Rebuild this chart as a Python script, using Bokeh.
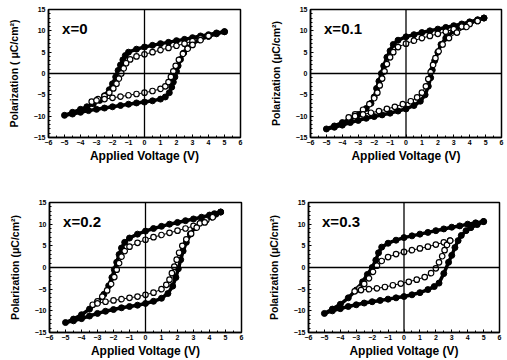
from bokeh.plotting import figure
from bokeh.models import Span, Label, SingleIntervalTicker, Range1d
from bokeh.layouts import column, row
from bokeh.embed import file_html
from bokeh.resources import INLINE

# ---------------- data ----------------
tags = ["x=0", "x=0.1", "x=0.2", "x=0.3"]
ylabels = ["Polarization ( \u03bcC/cm\u00b2)", "Polarization (\u03bcC/cm\u00b2)",
           "Polarization (\u03bcC/cm\u00b2)", "Polarization (\u03bcC/cm\u00b2)"]
xlabel = "Applied Voltage (V)"

# x = 0 : outer loop (filled) and inner loop (open)
V0_out = [5.0, 4.5, 4.0, 3.5, 3.0, 2.5, 2.0, 1.5, 1.0, 0.5, 0.0, -0.5, -1.0, -1.2, -1.35, -1.5, -1.65,
          -1.8, -2.0, -2.2, -2.5, -2.8, -3.2, -3.6, -4.0, -4.5, -5.0,
          -4.5, -4.0, -3.5, -3.0, -2.5, -2.0, -1.5, -1.0, -0.5, 0.0, 0.5, 1.0, 1.3, 1.55, 1.7, 1.8,
          1.9, 2.0, 2.1, 2.25, 2.45, 2.7, 3.0, 3.5, 4.0, 4.5, 5.0]
P0_out = [9.8, 9.5, 9.1, 8.8, 8.4, 8.0, 7.7, 7.3, 7.0, 6.6, 6.2, 5.7, 5.0, 4.2, 3.2, 2.0, 0.7,
          -0.8, -2.4, -3.8, -5.2, -6.3, -7.1, -7.8, -8.4, -9.1, -9.8,
          -9.5, -9.1, -8.7, -8.4, -8.1, -7.8, -7.5, -7.2, -6.9, -6.7, -6.4, -6.0, -5.5, -4.5, -3.2, -2.0,
          -0.8, 0.5, 1.8, 3.3, 4.8, 6.0, 7.0, 8.0, 8.7, 9.3, 9.8]
V0_in = [4.0, 3.5, 3.0, 2.5, 2.0, 1.5, 1.0, 0.5, 0.0, -0.5, -0.9, -1.15, -1.3, -1.45, -1.6, -1.75,
         -1.95, -2.2, -2.5, -2.9, -3.3,
         -3.0, -2.5, -2.0, -1.5, -1.0, -0.5, 0.0, 0.5, 1.0, 1.3, 1.5, 1.65, 1.8, 1.95, 2.15, 2.4,
         2.7, 3.0, 3.5, 4.0]
P0_in = [8.8, 8.2, 7.6, 7.0, 6.5, 6.0, 5.5, 5.0, 4.5, 4.0, 3.3, 2.4, 1.2, 0.0, -1.2, -2.4,
         -3.5, -4.5, -5.3, -6.0, -6.6,
         -6.3, -6.0, -5.7, -5.4, -5.1, -4.8, -4.5, -4.1, -3.6, -3.0, -2.0, -0.8, 0.5, 1.8, 3.2, 4.6,
         5.8, 6.7, 7.8, 8.8]

# x = 0.1
V1_out = [4.9, 4.5, 4.0, 3.5, 3.0, 2.5, 2.0, 1.5, 1.0, 0.5, 0.0, -0.5, -0.8, -1.0, -1.2, -1.4, -1.55,
          -1.7, -1.85, -2.0, -2.2, -2.5, -3.0, -3.5, -4.0, -4.5, -5.0,
          -4.5, -4.0, -3.5, -3.0, -2.5, -2.0, -1.5, -1.0, -0.5, 0.0, 0.5, 0.9, 1.2, 1.4, 1.55, 1.65,
          1.8, 2.0, 2.2, 2.5, 3.0, 3.5, 4.0, 4.5, 4.9]
P1_out = [13.0, 12.6, 12.1, 11.6, 11.2, 10.8, 10.4, 10.0, 9.6, 9.1, 8.6, 7.8, 6.8, 5.3, 3.8, 1.8, 0.0,
          -1.8, -3.5, -5.5, -7.0, -8.2, -9.6, -10.6, -11.5, -12.3, -13.0,
          -12.6, -12.1, -11.5, -11.0, -10.5, -10.1, -9.7, -9.3, -8.8, -8.3, -7.5, -6.5, -5.0, -3.0, -1.0, 0.8,
          3.0, 5.0, 6.8, 8.3, 10.0, 11.0, 11.9, 12.5, 13.0]
V1_in = [4.5, 4.0, 3.5, 3.0, 2.5, 2.0, 1.5, 1.0, 0.5, 0.0, -0.5, -0.8, -1.0, -1.2, -1.35, -1.5, -1.65,
         -1.8, -2.0, -2.3, -2.7, -3.2, -3.6,
         -3.2, -2.7, -2.2, -1.7, -1.2, -0.7, -0.2, 0.3, 0.7, 1.0, 1.25, 1.4, 1.55, 1.7, 1.85, 2.05,
         2.3, 2.7, 3.2, 3.8, 4.5]
P1_in = [12.3, 11.6, 11.0, 10.4, 9.8, 9.3, 8.8, 8.3, 7.7, 7.0, 6.2, 5.0, 3.8, 2.2, 0.5, -1.2, -2.8,
         -4.5, -5.8, -7.2, -8.5, -9.6, -10.3,
         -10.0, -9.6, -9.2, -8.8, -8.3, -7.8, -7.2, -6.5, -5.6, -4.5, -3.0, -1.3, 0.3, 2.0, 3.6, 5.2,
         6.8, 8.3, 9.6, 10.9, 12.3]

# x = 0.2
V2_out = [4.7, 4.3, 4.0, 3.5, 3.0, 2.5, 2.0, 1.5, 1.0, 0.5, 0.0, -0.5, -1.0, -1.3, -1.5, -1.65, -1.8,
          -1.95, -2.1, -2.3, -2.6, -3.0, -3.5, -4.0, -4.5, -5.0,
          -4.5, -4.0, -3.5, -3.0, -2.5, -2.0, -1.5, -1.0, -0.5, 0.0, 0.5, 1.0, 1.4, 1.7, 1.9, 2.05,
          2.2, 2.35, 2.55, 2.8, 3.1, 3.5, 4.0, 4.4, 4.7]
P2_out = [12.8, 12.4, 12.1, 11.6, 11.2, 10.8, 10.4, 10.0, 9.5, 9.0, 8.4, 7.7, 6.8, 5.8, 4.5, 3.0, 1.2,
          -0.5, -2.3, -4.2, -6.2, -8.0, -9.6, -10.9, -11.9, -12.7,
          -12.3, -11.8, -11.2, -10.6, -10.1, -9.7, -9.3, -9.0, -8.7, -8.3, -7.8, -7.1, -6.0, -4.3, -2.3, -0.3,
          1.8, 3.8, 5.8, 7.7, 9.3, 10.6, 11.7, 12.3, 12.8]
V2_in = [4.2, 3.8, 3.4, 3.0, 2.5, 2.0, 1.5, 1.0, 0.5, 0.0, -0.5, -1.0, -1.3, -1.5, -1.65, -1.8, -1.95,
         -2.15, -2.4, -2.7, -3.0, -3.3,
         -3.0, -2.5, -2.0, -1.5, -1.0, -0.5, 0.0, 0.5, 1.0, 1.3, 1.5, 1.65, 1.8, 1.95, 2.1, 2.3,
         2.55, 2.85, 3.2, 3.7, 4.2]
P2_in = [11.6, 10.9, 10.2, 9.6, 9.0, 8.5, 8.0, 7.5, 7.0, 6.4, 5.7, 4.8, 3.8, 2.5, 1.0, -0.5, -2.2,
         -3.8, -5.3, -6.7, -7.8, -8.6,
         -8.3, -7.9, -7.6, -7.3, -7.0, -6.7, -6.3, -5.8, -5.0, -4.0, -2.8, -1.3, 0.2, 1.8, 3.4, 5.0,
         6.5, 7.8, 9.2, 10.4, 11.6]

# x = 0.3
V3_out = [5.0, 4.5, 4.0, 3.5, 3.0, 2.5, 2.0, 1.5, 1.0, 0.5, 0.0, -0.5, -1.0, -1.4, -1.6, -1.77, -2.0,
          -2.3, -2.6, -3.0, -3.5, -4.0, -4.5, -5.0,
          -4.5, -4.0, -3.5, -3.0, -2.5, -2.0, -1.5, -1.0, -0.5, 0.0, 0.5, 1.0, 1.5, 1.9, 2.2, 2.5,
          2.8, 3.0, 3.2, 3.4, 3.6, 3.9, 4.2, 4.6, 5.0]
P3_out = [10.6, 10.3, 10.0, 9.6, 9.3, 8.9, 8.5, 8.1, 7.7, 7.3, 6.9, 6.3, 5.6, 4.7, 3.4, 1.7, 0.0,
          -1.6, -3.3, -5.2, -7.0, -8.5, -9.6, -10.6,
          -10.0, -9.5, -9.0, -8.6, -8.2, -7.9, -7.6, -7.3, -7.0, -6.7, -6.3, -5.8, -5.1, -4.4, -3.6, -1.4,
          1.2, 2.8, 4.6, 6.2, 7.4, 8.5, 9.2, 9.9, 10.6]
V3_in = [2.9, 2.5, 2.0, 1.5, 1.0, 0.5, 0.0, -0.5, -1.0, -1.4, -1.7, -1.95, -2.2, -2.5, -2.8, -3.1,
         -2.7, -2.2, -1.7, -1.2, -0.7, -0.2, 0.3, 0.8, 1.3, 1.7, 2.0, 2.2, 2.4, 2.55, 2.7, 2.9]
P3_in = [6.2, 5.8, 5.3, 4.8, 4.4, 4.0, 3.6, 3.1, 2.4, 1.5, 0.4, -1.0, -2.5, -3.8, -4.8, -5.5,
         -5.2, -5.0, -4.8, -4.5, -4.1, -3.7, -3.3, -2.8, -2.2, -1.3, -0.2, 1.2, 2.6, 4.0, 5.2, 6.2]

FONT = "Liberation Sans"


def panel(Vo, Po, Vi, Pi, tag, ylab, w, h, bl, br, bt, bb):
    p = figure(width=w, height=h, x_range=Range1d(-6, 6), y_range=Range1d(-15, 15),
               output_backend="svg", toolbar_location=None, min_border=0,
               min_border_left=bl, min_border_right=br, min_border_top=bt, min_border_bottom=bb)
    p.xgrid.visible = False
    p.ygrid.visible = False
    p.outline_line_color = "black"
    p.outline_line_width = 1.5
    p.background_fill_color = "white"
    p.border_fill_color = "white"
    p.xaxis.ticker = SingleIntervalTicker(interval=1, num_minor_ticks=2)
    p.yaxis.ticker = SingleIntervalTicker(interval=5, num_minor_ticks=5)
    for ax in (p.xaxis, p.yaxis):
        ax.major_tick_in = 3
        ax.major_tick_out = 0
        ax.minor_tick_in = 2
        ax.minor_tick_out = 0
        ax.axis_line_width = 1.5
        ax.axis_line_color = "black"
        ax.major_tick_line_color = "black"
        ax.minor_tick_line_color = "black"
        ax.major_label_text_font = FONT
        ax.major_label_text_font_style = "bold"
        ax.major_label_text_font_size = "7px"
        ax.major_label_text_color = "black"
        ax.axis_label_text_font = FONT
        ax.axis_label_text_font_style = "bold"
        ax.axis_label_text_color = "black"
    p.xaxis.axis_label = xlabel
    p.xaxis.axis_label_text_font_size = "12px"
    p.xaxis.major_label_standoff = 2
    p.xaxis.axis_label_standoff = 1
    p.yaxis.axis_label = ylab
    p.yaxis.axis_label_text_font_size = "10.5px"
    p.yaxis.major_label_standoff = 3
    p.yaxis.axis_label_standoff = 11
    p.add_layout(Span(location=0, dimension="height", line_color="black", line_width=1.3))
    p.add_layout(Span(location=0, dimension="width", line_color="black", line_width=1.3))
    p.line(Vo, Po, line_width=3.5, line_color="black")
    p.scatter(Vo, Po, size=6, fill_color="black", line_color="black")
    p.line(Vi, Pi, line_width=1, line_color="black")
    p.scatter(Vi, Pi, size=5.5, fill_color="white", line_color="black", line_width=1.2)
    p.add_layout(Label(x=-5.15, y=10.6, text=tag, text_font=FONT, text_font_style="bold",
                       text_font_size="15px", text_baseline="middle", text_color="black"))
    return p


p1 = panel(V0_out, P0_out, V0_in, P0_in, tags[0], ylabels[0], 253, 180, 48, 13, 9, 43)
p2 = panel(V1_out, P1_out, V1_in, P1_in, tags[1], ylabels[1], 254, 180, 57, 6, 7, 43)
p3 = panel(V2_out, P2_out, V2_in, P2_in, tags[2], ylabels[2], 253, 180, 49, 12, 22, 28)
p4 = panel(V3_out, P3_out, V3_in, P3_in, tags[3], ylabels[3], 254, 180, 55, 8, 22, 28)

layout = column(row(p1, p2), row(p3, p4))
open("out.html", "w").write(file_html(layout, INLINE))
